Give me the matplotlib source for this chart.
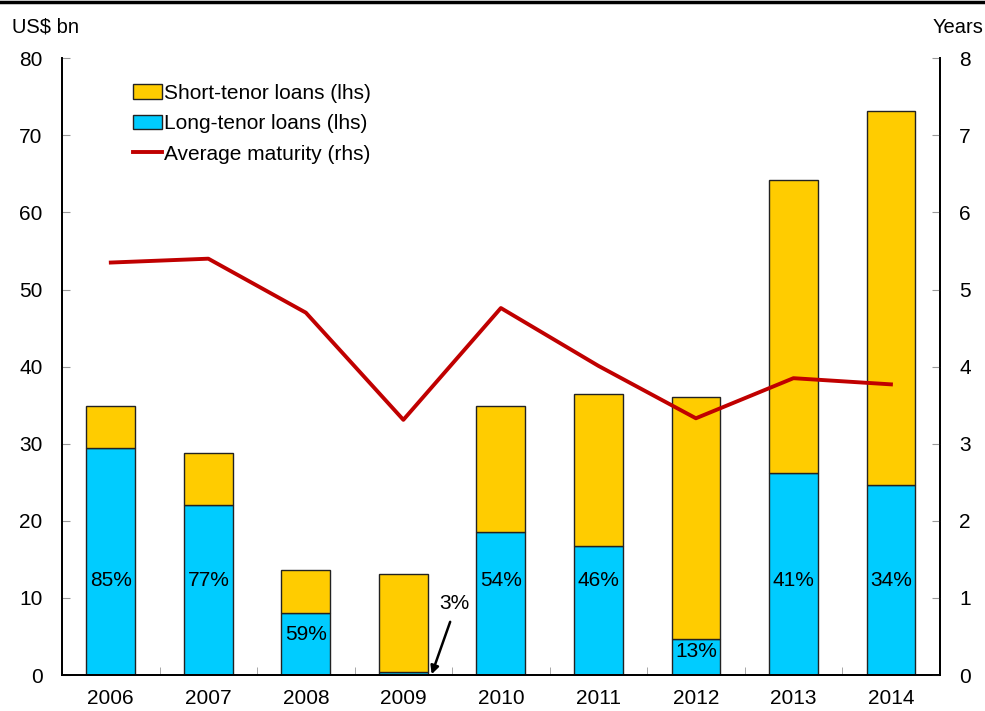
import matplotlib
matplotlib.use("Agg")
import matplotlib.pyplot as plt
from matplotlib.lines import Line2D
from matplotlib.patches import Patch
import numpy as np

plt.rcParams['font.family'] = ['Liberation Sans', 'DejaVu Sans']

years = ["2006", "2007", "2008", "2009", "2010", "2011", "2012", "2013", "2014"]
long_tenor = [29.5, 22.0, 8.1, 0.4, 18.6, 16.7, 4.7, 26.2, 24.7]
total_loans = [34.9, 28.8, 13.6, 13.1, 34.9, 36.4, 36.0, 64.2, 73.2]
short_tenor = [t - l for t, l in zip(total_loans, long_tenor)]
avg_maturity = [5.35, 5.40, 4.70, 3.31, 4.76, 4.01, 3.33, 3.85, 3.77]
pct_labels = ["85%", "77%", "59%", "3%", "54%", "46%", "13%", "41%", "34%"]

YELLOW = "#FFCC00"
CYAN = "#00CCFF"
RED = "#C00000"
TICKGRAY = "#999999"
FS = 15

fig = plt.figure(figsize=(9.85, 7.11), dpi=100)
ax = fig.add_axes([0.063, 0.0506, 0.891, 0.8675])
ax2 = ax.twinx()

x = np.arange(len(years))
w = 0.5
ax.bar(x, long_tenor, w, color=CYAN, edgecolor="#222222", linewidth=1.0, zorder=2)
ax.bar(x, short_tenor, w, bottom=long_tenor, color=YELLOW, edgecolor="#222222",
       linewidth=1.0, zorder=2)

for i, (lt, lab) in enumerate(zip(long_tenor, pct_labels)):
    if lt < 1:
        continue
    ypos = 12.3 if lt > 15 else lt * 0.65
    ax.text(x[i], ypos, lab, ha="center", va="center", fontsize=FS, zorder=3)

# 3% annotation for 2009
ax.annotate("", xy=(3.29, 0.1), xytext=(3.48, 6.9),
            arrowprops=dict(arrowstyle="-|>", color="black", lw=1.8,
                            mutation_scale=12, shrinkA=0, shrinkB=0), zorder=4)
ax.text(3.52, 9.3, pct_labels[3], ha="center", va="center", fontsize=FS)

ax2.plot(x, avg_maturity, color=RED, lw=2.8, zorder=5)

ax.set_xlim(-0.5, len(years) - 0.5)
ax.set_ylim(0, 80)
ax2.set_ylim(0, 8)
ax.set_yticks(np.arange(0, 81, 10))
ax2.set_yticks(np.arange(0, 9, 1))
ax.set_xticks(x)
ax.set_xticklabels(years)
ax.set_xticks(np.arange(0.5, len(years) - 0.5, 1), minor=True)

ax.tick_params(axis="y", direction="in", length=6, color=TICKGRAY, labelsize=FS, pad=14)
ax2.tick_params(axis="y", direction="in", length=6, color=TICKGRAY, labelsize=FS, pad=14)
ax.tick_params(axis="x", which="major", length=0, labelsize=FS, pad=10)
ax.tick_params(axis="x", which="minor", direction="in", length=6, color=TICKGRAY)

for a in (ax, ax2):
    a.spines["top"].set_visible(False)
    for s in ("left", "right", "bottom"):
        a.spines[s].set_color("black")
        a.spines[s].set_linewidth(1.3)

fig.text(0.012, 0.962, "US$ bn", fontsize=14.5, ha="left", va="center")
fig.text(0.947, 0.962, "Years", fontsize=14.5, ha="left", va="center")

fig.add_artist(Line2D([0, 1], [0.997, 0.997], color="black", lw=2.5,
                      transform=fig.transFigure))

handles = [Patch(facecolor=YELLOW, edgecolor="#222222", linewidth=1.0),
           Patch(facecolor=CYAN, edgecolor="#222222", linewidth=1.0),
           Line2D([0], [0], color=RED, lw=2.8)]
labels = ["Short-tenor loans (lhs)", "Long-tenor loans (lhs)", "Average maturity (rhs)"]
leg = ax2.legend(handles, labels, loc="upper left", bbox_to_anchor=(0.124, 0.897),
                 bbox_transform=fig.transFigure, frameon=False, fontsize=FS,
                 handlelength=1.4, handleheight=0.7, handletextpad=0.12,
                 labelspacing=0.55, borderpad=0)

fig.savefig("out.png", dpi=100)
